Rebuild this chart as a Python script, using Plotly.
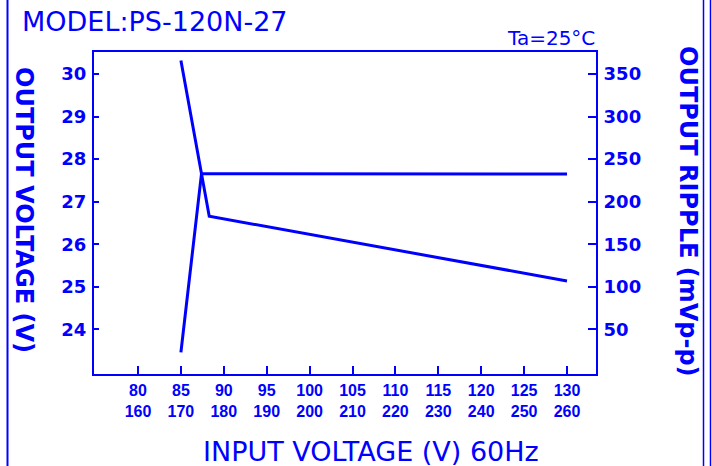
import plotly.graph_objects as go

# ---- data ----
input_voltage_ticks = [80, 85, 90, 95, 100, 105, 110, 115, 120, 125, 130]
input_voltage_ticks_230 = [160, 170, 180, 190, 200, 210, 220, 230, 240, 250, 260]
output_voltage_x = [85, 87.4, 130]
output_voltage_y = [23.46, 27.66, 27.65]
ripple_x = [85, 87.4, 88.3, 130]
ripple_y = [366, 232, 183, 107]
left_ticks = [24, 25, 26, 27, 28, 29, 30]
right_ticks = [50, 100, 150, 200, 250, 300, 350]

BLUE = "#0000FF"
W, H = 712, 466
ML, MR, MT, MB = 94, 116, 52, 92
PW = W - ML - MR
PH = H - MT - MB


def px(x):
    return (x - ML) / PW


def py(y):
    return (H - MB - y) / PH


y1_range = [22.953, 30.518]
y2_range = [50 * (v - 23) for v in y1_range]

fig = go.Figure()
fig.add_trace(go.Scatter(x=output_voltage_x, y=output_voltage_y, mode="lines",
                         line=dict(color=BLUE, width=3), yaxis="y", showlegend=False))
fig.add_trace(go.Scatter(x=ripple_x, y=ripple_y, mode="lines",
                         line=dict(color=BLUE, width=3), yaxis="y2", showlegend=False))

fig.update_layout(
    width=W, height=H,
    margin=dict(l=ML, r=MR, t=MT, b=MB, pad=0),
    paper_bgcolor="white", plot_bgcolor="white",
    xaxis=dict(range=[74.87, 133.38], showgrid=False, zeroline=False,
               showline=True, linecolor=BLUE, linewidth=2, mirror=True,
               ticks="inside", ticklen=8, tickwidth=2, tickcolor=BLUE,
               tickvals=input_voltage_ticks,
               ticktext=[f"{a}<br>{b}" for a, b in zip(input_voltage_ticks, input_voltage_ticks_230)],
               tickfont=dict(family="Liberation Sans", size=16, color=BLUE, weight="bold"),
               ticklabelstandoff=1),
    yaxis=dict(range=y1_range, showgrid=False, zeroline=False,
               showline=True, linecolor=BLUE, linewidth=2,
               ticks="inside", ticklen=5, tickwidth=2, tickcolor=BLUE,
               tickvals=left_ticks,
               tickfont=dict(family="DejaVu Sans", size=18, color=BLUE, weight="bold"),
               ticklabelstandoff=2),
    yaxis2=dict(range=y2_range, overlaying="y", side="right", showgrid=False, zeroline=False,
                showline=True, linecolor=BLUE, linewidth=2,
                ticks="inside", ticklen=8, tickwidth=2, tickcolor=BLUE,
                tickvals=right_ticks,
                tickfont=dict(family="DejaVu Sans", size=18, color=BLUE, weight="bold"),
                ticklabelstandoff=2),
)

ann = [
    dict(text="MODEL:PS-120N-27", x=px(20), y=py(21.5), xanchor="left", yanchor="middle",
         font=dict(family="DejaVu Sans", size=27, color=BLUE)),
    dict(text="Ta=25°C", x=px(597), y=py(37.5), xanchor="right", yanchor="middle",
         font=dict(family="DejaVu Sans", size=20, color=BLUE)),
    dict(text="OUTPUT VOLTAGE (V)", x=px(24), y=py(210), xanchor="center", yanchor="middle",
         textangle=90, font=dict(family="DejaVu Sans", size=24, color=BLUE, weight="bold")),
    dict(text="OUTPUT RIPPLE (mVp-p)", x=px(688), y=py(211), xanchor="center", yanchor="middle",
         textangle=90, font=dict(family="DejaVu Sans", size=24, color=BLUE, weight="bold")),
    dict(text="INPUT VOLTAGE (V) 60Hz", x=px(371), y=py(451), xanchor="center", yanchor="middle",
         font=dict(family="DejaVu Sans", size=27, color=BLUE)),
]
for a in ann:
    a.update(xref="paper", yref="paper", showarrow=False)
fig.update_layout(annotations=ann)

shapes = []
for xline, wdt in [(7.5, 2), (703.5, 1.5), (710.5, 1.5)]:
    shapes.append(dict(type="line", xref="paper", yref="paper",
                       x0=px(xline), x1=px(xline), y0=py(0), y1=py(H),
                       line=dict(color=BLUE, width=wdt)))
fig.update_layout(shapes=shapes)

fig.write_html("out.html", config={"displayModeBar": False},
               post_script="document.body.style.margin='0px';document.body.style.overflow='hidden';")
